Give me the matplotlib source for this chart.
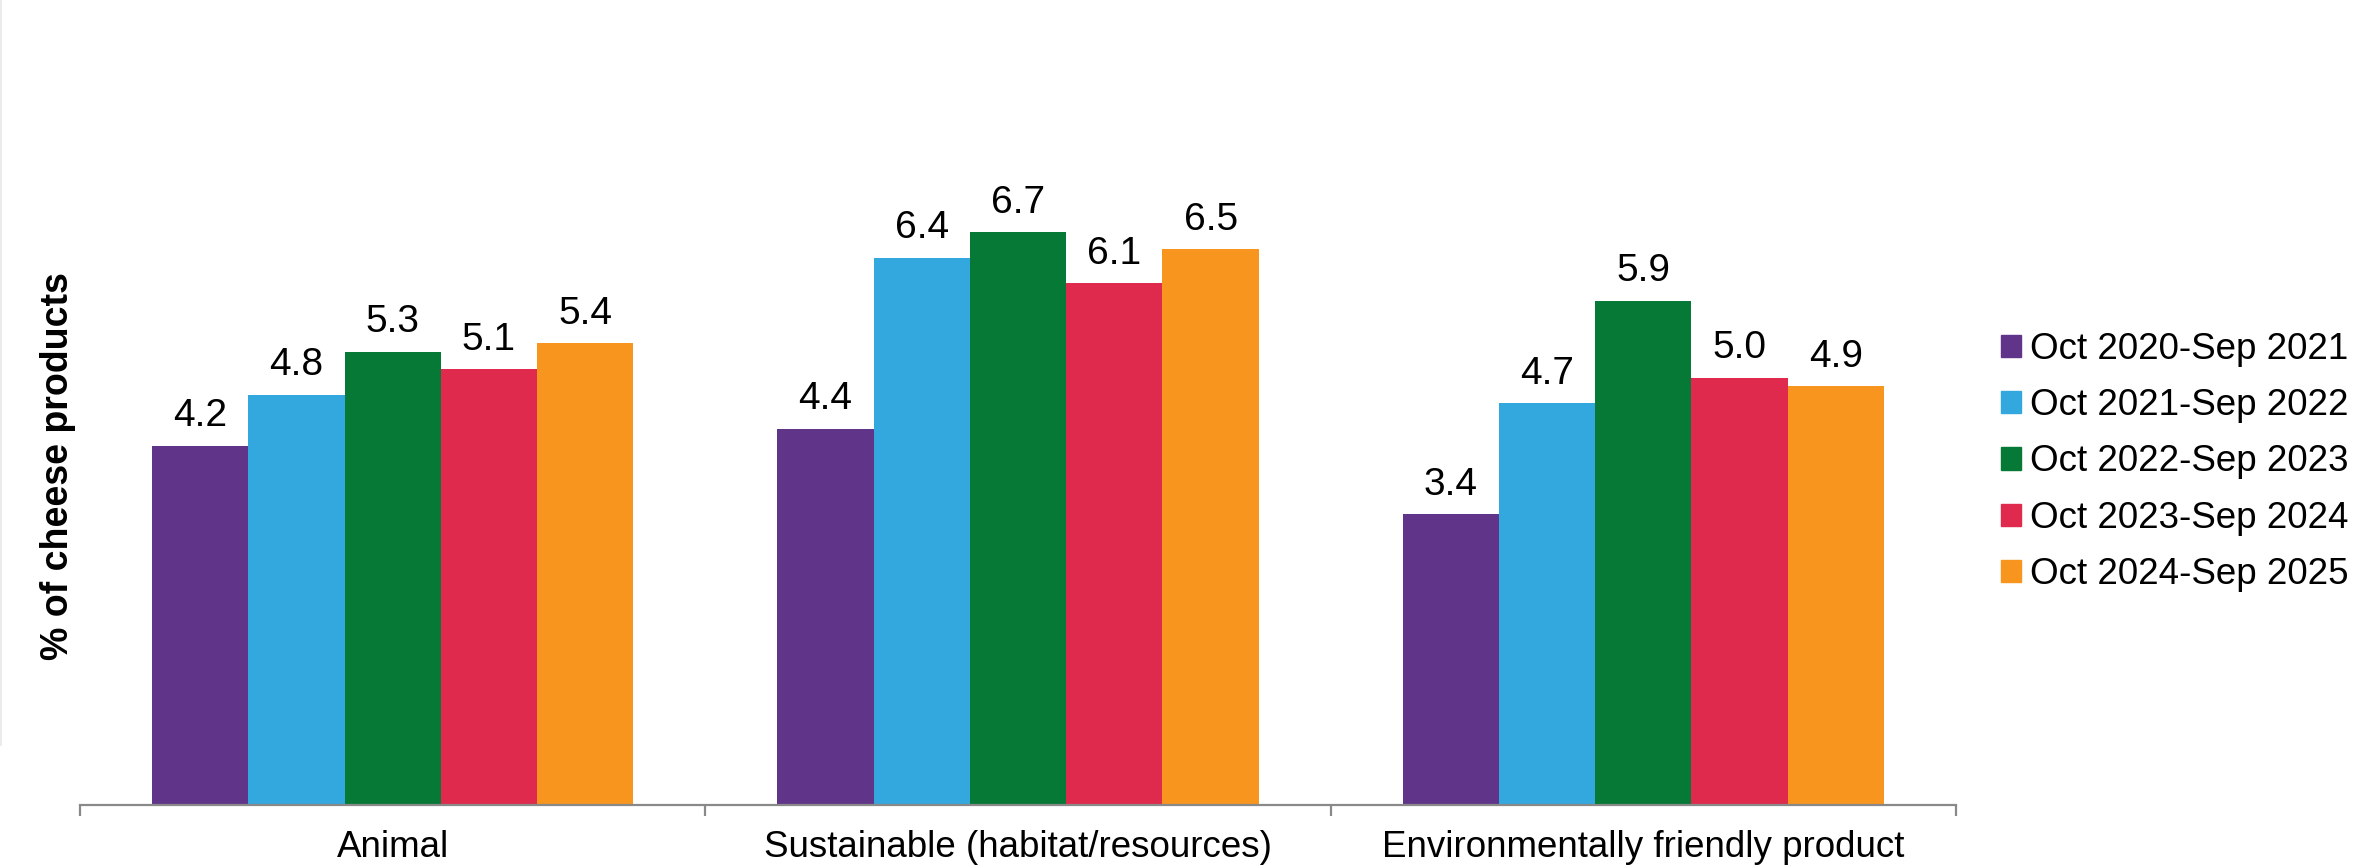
import matplotlib.pyplot as plt
import numpy as np
from matplotlib.lines import Line2D

plt.rcParams['font.family'] = ['Liberation Sans', 'DejaVu Sans']

categories = ['Animal', 'Sustainable (habitat/resources)', 'Environmentally friendly product']
periods = ['Oct 2020-Sep 2021', 'Oct 2021-Sep 2022', 'Oct 2022-Sep 2023',
           'Oct 2023-Sep 2024', 'Oct 2024-Sep 2025']
values_2021 = [4.2, 4.4, 3.4]
values_2022 = [4.8, 6.4, 4.7]
values_2023 = [5.3, 6.7, 5.9]
values_2024 = [5.1, 6.1, 5.0]
values_2025 = [5.4, 6.5, 4.9]
series = [values_2021, values_2022, values_2023, values_2024, values_2025]
colors = ['#603589', '#33a8de', '#077936', '#df2a4d', '#f7951f']

W, H = 2356, 865
fig = plt.figure(figsize=(W / 100, H / 100), dpi=100)
ax = fig.add_axes([80 / W, 1 - 805 / H, (1956 - 80) / W, 805 / H])

x = np.arange(len(categories))
bw = 0.154
for i, (vals, col, lab) in enumerate(zip(series, colors, periods)):
    pos = x + (i - 2) * bw
    bars = ax.bar(pos, vals, bw, color=col, label=lab, linewidth=0)
    for b, v in zip(bars, vals):
        ax.annotate(f'{v:.1f}', (b.get_x() + b.get_width() / 2, v),
                    xytext=(0, 14), textcoords='offset points',
                    ha='center', va='baseline', fontsize=28)

ax.set_xlim(-0.5, 2.5)
ax.set_ylim(0, 805 / 85.5)
ax.set_yticks([])
for s in ['top', 'right', 'left']:
    ax.spines[s].set_visible(False)
ax.spines['bottom'].set_color('#898989')
ax.spines['bottom'].set_linewidth(1.6)

ax.set_xticks(x)
ax.set_xticklabels(categories, fontsize=26.5)
ax.tick_params(axis='x', which='major', length=0, pad=18)
ax.set_xticks([-0.5, 0.5, 1.5, 2.5], minor=True)
ax.tick_params(axis='x', which='minor', length=8, width=1.6, color='#898989')

fig.text(58 / W, 1 - 466 / H, '% of cheese products', rotation=90,
         ha='center', va='center', fontsize=27, fontweight='bold')

# faint frame edge on the left
fig.add_artist(Line2D([1 / W, 1 / W], [1, 1 - 745 / H], color='#ececec', lw=1.5))

handles = [plt.Rectangle((0, 0), 1, 1, color=c) for c in colors]
fig.legend(handles, periods, loc='center left', bbox_to_anchor=(2001 / W, 1 - 462 / H),
           frameon=False, fontsize=26.5, handlelength=0.55, handleheight=0.55,
           handletextpad=0.25, labelspacing=0.58, borderaxespad=0, borderpad=0)

fig.savefig('out.png', dpi=100)
